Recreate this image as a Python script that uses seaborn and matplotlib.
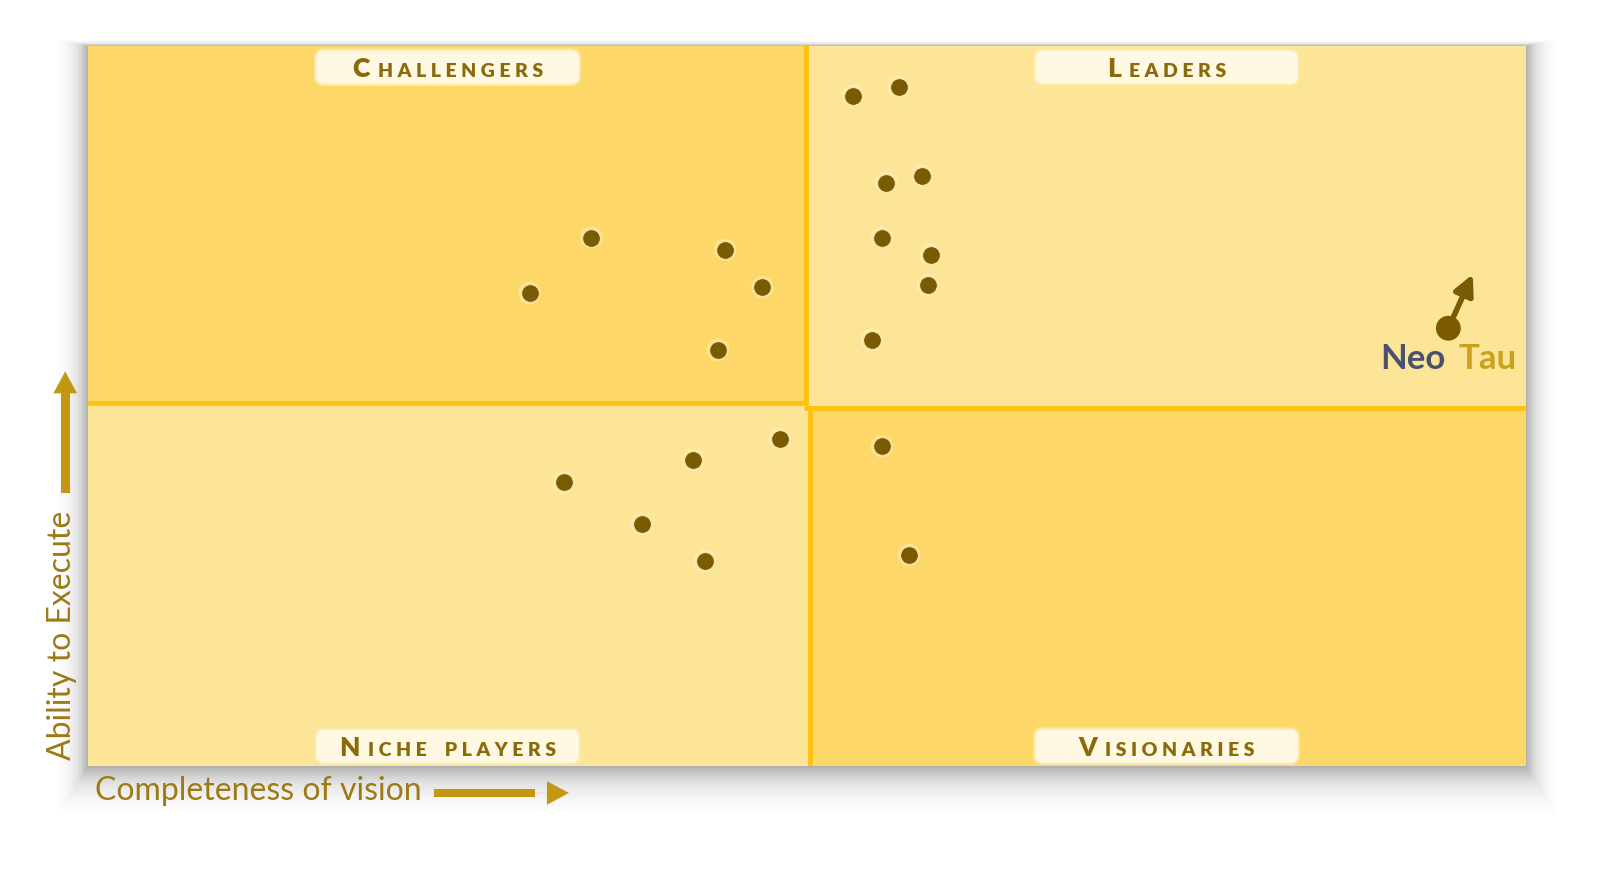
import numpy as np
import pandas as pd
import matplotlib.pyplot as plt
import seaborn as sns
from matplotlib.patches import Rectangle, FancyBboxPatch
from matplotlib.offsetbox import TextArea, HPacker, AnnotationBbox

# ===============================
# Data
# ===============================
vendor_x = [35.0, 30.7, 44.3, 46.9, 43.8,
            53.2, 56.4, 55.5, 58.0, 55.2, 58.6, 58.4, 54.5,
            48.1, 42.1, 33.1, 38.5, 42.9,
            55.2, 57.1]
vendor_y = [73.4, 65.7, 71.7, 66.5, 57.8,
            93.1, 94.3, 81.0, 82.0, 73.4, 71.0, 66.8, 59.2,
            45.4, 42.5, 39.4, 33.6, 28.5,
            44.4, 29.3]

neo_x, neo_y = 94.6, 60.8
neo_target_x, neo_target_y = 96.3, 68.3

# quadrant split lines (slightly misaligned in the original)
x_split_top, x_split_bottom = 49.9, 50.2
y_split_left, y_split_right = 50.4, 49.7

quadrant_names = ["CHALLENGERS", "LEADERS", "NICHE PLAYERS", "VISIONARIES"]
quadrant_label_x = [25, 75, 25, 75]
quadrant_label_y = [97.05, 97.05, 2.75, 2.75]

df = pd.DataFrame({"x": vendor_x, "y": vendor_y})

# ===============================
# Style
# ===============================
sns.set_theme(style="white")
plt.rcParams["font.family"] = ["Lato", "DejaVu Sans"]

DARK_Q = "#FDD868"
LIGHT_Q = "#FDE598"
LINE = "#FDC20E"
DOT = "#7A5A02"
LABEL_TXT = "#8A6A0A"
AXIS_TXT = "#9C7A14"
ARROW = "#C39712"

fig = plt.figure(figsize=(16.22, 8.70), dpi=100)
fig.patch.set_facecolor("white")

left, bottom, width, height = 0.0543, 0.1184, 0.8865, 0.8276

# soft drop shadow around the panel (stacked translucent rectangles)
n_layers = 24
for i in range(n_layers):
    a = 0.07 * np.exp(-i / 6.5)
    px = (1 + i * 1.3) / 1622
    py = (1 + i * 1.3) / 870
    fig.patches.append(Rectangle((left - px, bottom - py * 1.6),
                                 width + 2 * px, height + py * 1.8,
                                 transform=fig.transFigure, facecolor="#505050",
                                 edgecolor="none", alpha=a, zorder=0))

ax = fig.add_axes([left, bottom, width, height])
ax.set_zorder(3)
ax.set_xlim(0, 100)
ax.set_ylim(0, 100)
ax.set_facecolor(LIGHT_Q)
for s in ax.spines.values():
    s.set_visible(False)
ax.set_xticks([])
ax.set_yticks([])

# quadrants
ax.add_patch(Rectangle((0, y_split_left), x_split_top, 100 - y_split_left,
                       facecolor=DARK_Q, edgecolor="none", zorder=0))
ax.add_patch(Rectangle((x_split_top, y_split_right), 100 - x_split_top, 100 - y_split_right,
                       facecolor=LIGHT_Q, edgecolor="none", zorder=0))
ax.add_patch(Rectangle((0, 0), x_split_bottom, y_split_left,
                       facecolor=LIGHT_Q, edgecolor="none", zorder=0))
ax.add_patch(Rectangle((x_split_bottom, 0), 100 - x_split_bottom, y_split_right,
                       facecolor=DARK_Q, edgecolor="none", zorder=0))

# split lines
ax.plot([x_split_top, x_split_top], [y_split_left, 100], color=LINE, lw=3.5, zorder=1)
ax.plot([x_split_bottom, x_split_bottom], [0, y_split_right], color=LINE, lw=3.5, zorder=1)
ax.plot([0, x_split_top], [y_split_left, y_split_left], color=LINE, lw=3.5, zorder=1)
ax.plot([x_split_top, 100], [y_split_right, y_split_right], color=LINE, lw=3.5, zorder=1)

# vendor dots with a faint glow
sns.scatterplot(data=df, x="x", y="y", ax=ax, s=260, color="#FFF4CC", alpha=0.45,
                edgecolor="none", zorder=2, legend=False)
sns.scatterplot(data=df, x="x", y="y", ax=ax, s=165, color=DOT,
                edgecolor="#F6E3A0", linewidth=0.8, zorder=3, legend=False)

# Neo Tau
ax.annotate("", xy=(neo_target_x, neo_target_y), xytext=(neo_x, neo_y),
            arrowprops=dict(arrowstyle="-|>,head_length=1.0,head_width=0.5",
                            color=DOT, lw=4, shrinkA=0, shrinkB=0), zorder=3)
sns.scatterplot(x=[neo_x], y=[neo_y], ax=ax, s=320, color=DOT,
                edgecolor="none", zorder=4, legend=False)
ax.set_xlabel("")
ax.set_ylabel("")

neo = TextArea("Neo", textprops=dict(color="#4A5070", fontsize=25, fontweight="bold"))
tau = TextArea("Tau", textprops=dict(color="#C9A11F", fontsize=25, fontweight="bold"))
pack = HPacker(children=[neo, tau], align="baseline", pad=0, sep=9)
ax.add_artist(AnnotationBbox(pack, (neo_x, neo_y - 4.2), xycoords="data",
                             frameon=False, box_alignment=(0.5, 0.5), zorder=5))

# quadrant labels
for name, lx, ly in zip(quadrant_names, quadrant_label_x, quadrant_label_y):
    ax.add_patch(FancyBboxPatch((lx - 9.2, ly - 2.45), 18.4, 4.9,
                                boxstyle="round,pad=0,rounding_size=0.6",
                                facecolor="#FFF8E3", edgecolor="#FDE9A8", lw=1.5,
                                zorder=5, mutation_aspect=2.0))
    first = TextArea(name[0], textprops=dict(color=LABEL_TXT, fontsize=19, fontweight="heavy"))
    rest = TextArea(" ".join(name[1:]).replace("   ", "    "),
                    textprops=dict(color=LABEL_TXT, fontsize=14, fontweight="heavy"))
    p = HPacker(children=[first, rest], align="baseline", pad=0, sep=6)
    ax.add_artist(AnnotationBbox(p, (lx, ly - 0.1), xycoords="data", frameon=False,
                                 box_alignment=(0.5, 0.5), zorder=6))

# axis titles with arrows
fig.text(0.0585, 0.0905, "Completeness of vision", color=AXIS_TXT, fontsize=23,
         ha="left", va="center")
fig.text(0.0385, 0.126, "Ability to Execute", color=AXIS_TXT, fontsize=23,
         rotation=90, ha="center", va="bottom")

fig.patches.append(Rectangle((0.2678, 0.0826), 0.062, 0.0096,
                             transform=fig.transFigure, facecolor=ARROW, edgecolor="none"))
ax.annotate("", xy=(0.3507, 0.0874), xytext=(0.3290, 0.0874), xycoords="figure fraction",
            textcoords="figure fraction", annotation_clip=False,
            arrowprops=dict(arrowstyle="-|>,head_length=1.3,head_width=0.7",
                            color=ARROW, lw=0.1, shrinkA=0, shrinkB=0))
fig.patches.append(Rectangle((0.0375, 0.432), 0.0054, 0.12,
                             transform=fig.transFigure, facecolor=ARROW, edgecolor="none"))
ax.annotate("", xy=(0.0402, 0.572), xytext=(0.0402, 0.550), xycoords="figure fraction",
            textcoords="figure fraction", annotation_clip=False,
            arrowprops=dict(arrowstyle="-|>,head_length=1.3,head_width=0.7",
                            color=ARROW, lw=0.1, shrinkA=0, shrinkB=0))

plt.savefig("out.png", dpi=100)
plt.close()
